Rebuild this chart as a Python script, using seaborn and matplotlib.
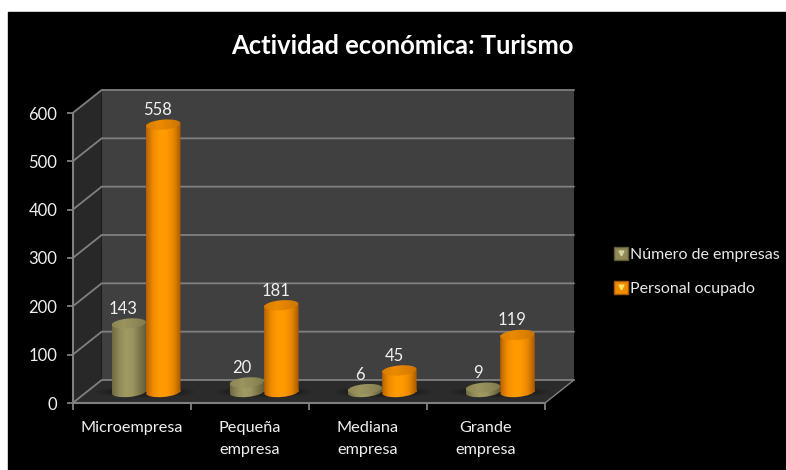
import numpy as np
import pandas as pd
import seaborn as sns
import matplotlib.pyplot as plt
from matplotlib.colors import LinearSegmentedColormap
from matplotlib.legend_handler import HandlerTuple
from matplotlib.lines import Line2D
from matplotlib.patches import Ellipse, Patch, Polygon, Rectangle
from matplotlib.path import Path
from matplotlib.transforms import Affine2D, IdentityTransform

categories = ['Microempresa', 'Pequeña\nempresa', 'Mediana\nempresa', 'Grande\nempresa']
empresas = [143, 20, 6, 9]
personal = [558, 181, 45, 119]
series_names = ['Número de empresas', 'Personal ocupado']
yticks = [0, 100, 200, 300, 400, 500, 600]

data = pd.DataFrame({
    'categoria': categories * 2,
    'valor': empresas + personal,
    'serie': [series_names[0]] * 4 + [series_names[1]] * 4,
})

W, H = 786, 470
sns.set_theme(style='white')
plt.rcParams['font.family'] = ['Lato', 'DejaVu Sans']

fig = plt.figure(figsize=(W / 100, H / 100), dpi=100, facecolor='white')
fig.add_artist(Rectangle((8 / W, 0), 1 - 8 / W, 1 - 12 / H, transform=fig.transFigure, color='black', zorder=-10))

# front plane of the fake 3d box, in pixels
left, right, bottom, top = 72.7, 545, 403, 113
ax = fig.add_axes([left / W, 1 - bottom / H, (right - left) / W, (bottom - top) / H])
ax.patch.set_visible(False)
ax.set_xlim(-0.5, 3.5)
ax.set_ylim(0, 600)

# depth of the box in data units
dx = 29 / ((right - left) / 4)
dy = 23 / ((bottom - top) / 600)
x0, x1 = -0.5, 3.5
ymax = yticks[-1]
ax.add_patch(Polygon([(x0, 0), (x1, 0), (x1 + dx, dy), (x0 + dx, dy)], color='#2b2b2b', clip_on=False, lw=0))
ax.add_patch(Polygon([(x0, 0), (x0, ymax), (x0 + dx, ymax + dy), (x0 + dx, dy)], color='#282828', clip_on=False, lw=0))
ax.add_patch(Polygon([(x0 + dx, dy), (x0 + dx, ymax + dy), (x1 + dx, ymax + dy), (x1 + dx, dy)], color='#404040', clip_on=False, lw=0))
grid = '#808080'
for t in yticks:
    ax.plot([x0, x0 + dx, x1 + dx], [t, t + dy, t + dy], color=grid, lw=1.3, clip_on=False, zorder=2)
ax.plot([x1, x1 + dx], [0, dy], color=grid, lw=1, clip_on=False, zorder=2)

ax.set_yticks(yticks)
ax.set_xticks(range(4))
ax.set_xticklabels(categories, linespacing=1.75)
ax.set_xticks(np.arange(-0.5, 4), minor=True)
ax.tick_params(axis='x', which='major', length=0, pad=13, labelsize=11.7, labelcolor='#f0f0f0')
ax.tick_params(axis='x', which='minor', length=5, width=1.3, color=grid, bottom=True)
ax.tick_params(axis='y', length=4, width=1.3, color=grid, left=True, pad=7, labelsize=12, labelcolor='#f0f0f0')
for side in ['top', 'right']:
    ax.spines[side].set_visible(False)
for side in ['left', 'bottom']:
    ax.spines[side].set_color(grid)
    ax.spines[side].set_linewidth(1.5)

# bars live in the middle of the box depth, slightly smaller from the perspective
shift_x, shift_y = 14.3, 11
ax2 = fig.add_axes([(left + shift_x) / W, 1 - (bottom - shift_y) / H, (right - left) / W, 287.5 / H], zorder=3)
ax2.patch.set_visible(False)
sns.barplot(data, x='categoria', y='valor', hue='serie', order=categories, hue_order=series_names,
            palette=['#9c9560', '#ff9900'], width=0.584, gap=0, saturation=1, legend=False, ax=ax2)
ax2.set_xlim(-0.5, 3.5)
ax2.set_ylim(0, 600)
ax2.axis('off')

maps = [
    (LinearSegmentedColormap.from_list('olive', ['#6f6a42', '#8f8a58', '#a09a64', '#9a9460', '#7c7749', '#5f5b38']),
     LinearSegmentedColormap.from_list('olive_top', ['#8a8552', '#9a9460', '#8f8a58', '#7f7a4c'])),
    (LinearSegmentedColormap.from_list('orange', ['#b86400', '#f08c00', '#ff9c00', '#ff9900', '#e88600', '#a85a00']),
     LinearSegmentedColormap.from_list('orange_top', ['#d67c00', '#ec8a00', '#e08200', '#c87400'])),
]
grad = np.linspace(0, 1, 64).reshape(1, -1)
fig.canvas.draw()


def ellipse_path(cx, cy, w, h):
    return Affine2D().scale(w / 2, h / 2).rotate_deg(5).translate(cx, cy).transform_path(Path.unit_circle())


# soft shadows on the floor
for i in range(4):
    a = ax2.containers[0][i]
    b = ax2.containers[1][i]
    cx = (a.get_x() + b.get_x() + b.get_width()) / 2
    for grow, alpha in [(1.45, 0.12), (1.3, 0.16), (1.15, 0.22)]:
        ax2.add_patch(Ellipse((cx, 0), (a.get_width() * 2) * grow, 16 * grow, color='#151515', alpha=alpha,
                              lw=0, clip_on=False, zorder=1))

z = 3
for k, bars in enumerate(ax2.containers):
    for bar in bars:
        bx, bw, bh = bar.get_x(), bar.get_width(), bar.get_height()
        bar.set_visible(False)
        (px0, py0), (px1, py1) = ax2.transData.transform([(bx, 0), (bx + bw, bh)])
        cx = (px0 + px1) / 2
        eh = 10
        body = Path([(px0, py0), (px1, py0), (px1, py1), (px0, py1), (px0, py0)], closed=True)
        clip = Path.make_compound_path(body, ellipse_path(cx, py0, px1 - px0, eh))
        im = ax2.imshow(grad, extent=[bx, bx + bw, -30, bh + 30], aspect='auto', cmap=maps[k][0], zorder=z)
        im.set_clip_box(fig.bbox)
        im.set_clip_path(clip, IdentityTransform())
        im2 = ax2.imshow(grad, extent=[bx, bx + bw, -30, bh + 30], aspect='auto', cmap=maps[k][1], zorder=z + 1)
        im2.set_clip_box(fig.bbox)
        im2.set_clip_path(ellipse_path(cx, py1, px1 - px0, eh), IdentityTransform())
        ax2.annotate(f'{int(bh)}', (bx + bw / 2, bh), xytext=(-5.5, 14.5), textcoords='offset pixels',
                     ha='center', va='center', color='#f0f0f0', fontsize=12, zorder=20, annotation_clip=False)
        z += 2
ax2.set_xlim(-0.5, 3.5)
ax2.set_ylim(0, 600)

fig.text(402.5 / W, 1 - 46 / H, 'Actividad económica: Turismo', ha='center', va='center',
         color='white', fontsize=18.4, fontweight='bold')

handles = [
    (Patch(facecolor='#8f8a58', edgecolor='#5f5b38'), Line2D([], [], marker='v', ms=3.5, color='#d8d4a0', ls='')),
    (Patch(facecolor='#f08c00', edgecolor='#a85a00'), Line2D([], [], marker='v', ms=3.5, color='#ffe060', ls='')),
]
fig.legend(handles, series_names, handler_map={tuple: HandlerTuple(ndivide=1, pad=0)}, loc='upper left',
           bbox_to_anchor=(601.5 / W, 1 - 234 / H), frameon=False, labelcolor='#e8e8e8', fontsize=11.55,
           handlelength=0.85, handleheight=0.85, handletextpad=0.1, labelspacing=1.2, borderpad=0.3)

fig.savefig('out.png', facecolor=fig.get_facecolor())
